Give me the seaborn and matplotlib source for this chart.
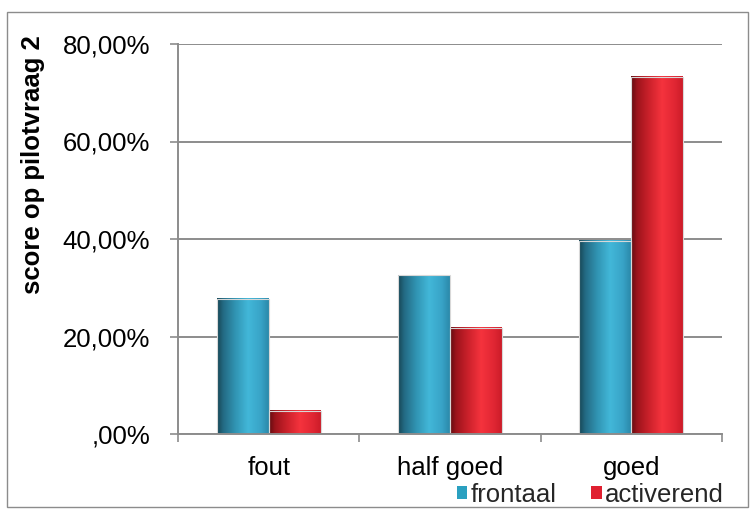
import matplotlib
matplotlib.use("Agg")
import matplotlib.pyplot as plt
import numpy as np
import pandas as pd
import seaborn as sns
from matplotlib.patches import Patch, Rectangle
from matplotlib.ticker import FuncFormatter, FixedLocator

categories = ["fout", "half goed", "goed"]
series = ["frontaal", "activerend"]
frontaal = [0.2778, 0.3254, 0.3968]
activerend = [0.0476, 0.2180, 0.7330]
y_ticks = [0.0, 0.2, 0.4, 0.6, 0.8]

df = pd.DataFrame({
    "categorie": categories * 2,
    "groep": [series[0]] * 3 + [series[1]] * 3,
    "score": frontaal + activerend,
})

GRID = "#8c8c8c"
FS = 18.5

sns.set_theme(style="white")
plt.rcParams["font.family"] = ["Liberation Sans", "DejaVu Sans"]

fig = plt.figure(figsize=(7.54, 5.12), dpi=100)
ax = fig.add_axes([178 / 754, 1 - 434 / 512, 544 / 754, 390 / 512])

sns.barplot(data=df, x="categorie", y="score", hue="groep", order=categories,
            hue_order=series, palette=["#2aa0c0", "#e02030"], width=0.573,
            gap=0, ax=ax, legend=False, errorbar=None, saturation=1)

# cylinder-like shading for each bar (Excel look)
stops = np.array([0.0, 0.12, 0.35, 0.6, 0.85, 1.0])
shade = {
    0: np.array([[0.09, 0.28, 0.34], [0.14, 0.42, 0.52], [0.19, 0.58, 0.70],
                 [0.26, 0.72, 0.85], [0.22, 0.64, 0.78], [0.17, 0.54, 0.67]]),
    1: np.array([[0.40, 0.05, 0.07], [0.62, 0.08, 0.11], [0.80, 0.13, 0.17],
                 [0.96, 0.20, 0.24], [0.88, 0.15, 0.20], [0.80, 0.11, 0.16]]),
}
xs = np.linspace(0, 1, 64)
bars = [p for p in ax.patches if isinstance(p, Rectangle) and p.get_height() > 0]
for i, p in enumerate(bars):
    col = shade[i // 3]
    grad = np.stack([np.interp(xs, stops, col[:, c]) for c in range(3)], axis=-1)[None, :, :]
    x0, w, h = p.get_x(), p.get_width(), p.get_height()
    ax.imshow(grad, extent=[x0, x0 + w, 0, h], aspect="auto", zorder=2.1, interpolation="bilinear")
    p.set_facecolor("none")
    p.set_edgecolor("#d8d8d8")
    p.set_linewidth(0.8)
    p.set_zorder(2.2)

ax.set_xlim(-0.5, 2.5)
ax.set_ylim(0, 0.8)
ax.set_aspect("auto")

ax.yaxis.set_major_locator(FixedLocator(y_ticks))


def pct(v, _):
    s = f"{v * 100:.2f}".replace(".", ",") + "%"
    return s[1:] if s.startswith("0,") else s


ax.yaxis.set_major_formatter(FuncFormatter(pct))
ax.grid(axis="y", color=GRID, linewidth=1.4, zorder=0)
ax.grid(axis="x", visible=False)
ax.set_axisbelow(True)

for side in ["top", "right"]:
    ax.spines[side].set_visible(False)
for side in ["left", "bottom"]:
    ax.spines[side].set_color(GRID)
    ax.spines[side].set_linewidth(1.4)

ax.set_xticks([-0.5, 0.5, 1.5, 2.5], minor=True)
ax.tick_params(axis="x", which="minor", length=6, width=1.2, color=GRID, direction="out", bottom=True)
ax.tick_params(axis="x", which="major", length=0, pad=16, labelsize=FS, labelcolor="black")
ax.tick_params(axis="y", length=6, width=1.2, color=GRID, direction="out", left=True, pad=14,
               labelsize=FS, labelcolor="black")

ax.set_xlabel("")
ax.set_ylabel("score op pilotvraag 2", fontsize=FS, fontweight="bold", color="black")
ax.yaxis.set_label_coords(-0.244, 0.69)

handles = [Patch(facecolor="#2aa0c0", edgecolor="none", label=series[0]),
           Patch(facecolor="#e02030", edgecolor="none", label=series[1])]
fig.legend(handles=handles, loc="center right", bbox_to_anchor=(724 / 754, 1 - 495 / 512),
           ncol=2, frameon=False, fontsize=FS, handlelength=0.42, handleheight=0.42,
           handletextpad=0.12, columnspacing=1.35, borderpad=0, borderaxespad=0)

fig.patches.append(Rectangle((7 / 754, 1 - 507 / 512), 741 / 754, 495 / 512,
                             transform=fig.transFigure, fill=False, edgecolor=GRID,
                             linewidth=1.0, figure=fig))

fig.savefig("out.png", dpi=100)
